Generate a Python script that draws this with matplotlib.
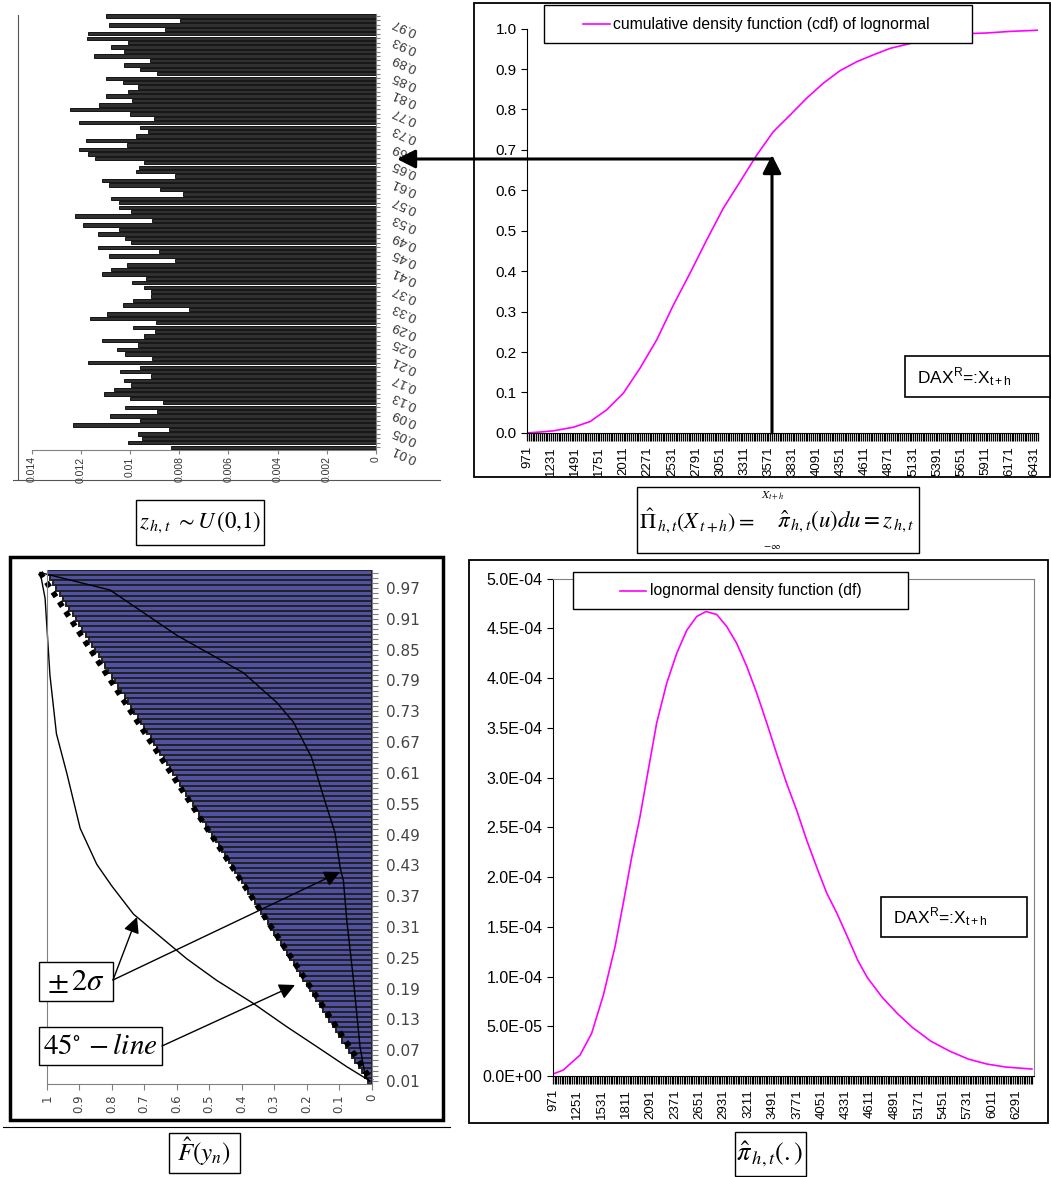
import matplotlib
matplotlib.use("Agg")
import numpy as np
import matplotlib.pyplot as plt
from matplotlib.patches import Rectangle
from matplotlib.ticker import FixedLocator, FuncFormatter

W, H = 1051, 1177
plt.rcParams['font.family'] = ['Liberation Sans', 'DejaVu Sans']
plt.rcParams['mathtext.fontset'] = 'stix'

# ---------------- data ----------------
# top left: histogram of z ~ U(0,1)
tl_categories = [round(0.01 * i, 2) for i in range(1, 99)]
tl_freq = [0.00835, 0.01007, 0.00953, 0.00966, 0.0084, 0.01233, 0.0096, 0.0108, 0.00892, 0.01019,
           0.00865, 0.0100, 0.01105, 0.01067, 0.00995, 0.01026, 0.00915, 0.0104, 0.00958, 0.0117,
           0.0091, 0.01022, 0.01054, 0.00966, 0.01115, 0.00942, 0.00899, 0.00987, 0.00893, 0.01164,
           0.01094, 0.00759, 0.0103, 0.00987, 0.00915, 0.00915, 0.00942, 0.00993, 0.00934, 0.01113,
           0.01076, 0.01014, 0.00816, 0.01084, 0.00881, 0.01129, 0.00995, 0.01022, 0.01129, 0.01046,
           0.0119, 0.0091, 0.01222, 0.00995, 0.01046, 0.01046, 0.01076, 0.00783, 0.00877, 0.01084,
           0.01115, 0.00816, 0.00974, 0.00962, 0.00942, 0.01141, 0.01172, 0.01206, 0.01014, 0.0118,
           0.00974, 0.00926, 0.00961, 0.01209, 0.00901, 0.00999, 0.01245, 0.01128, 0.00991, 0.01098,
           0.01007, 0.00969, 0.0103, 0.01098, 0.00892, 0.0096, 0.01026, 0.00918, 0.01145, 0.01026,
           0.01079, 0.01007, 0.01176, 0.0117, 0.00857, 0.01084, 0.00798, 0.01098]
tl_labeled = [0.01, 0.05, 0.09, 0.13, 0.17, 0.21, 0.25, 0.29, 0.33, 0.37, 0.41, 0.45, 0.49,
              0.53, 0.57, 0.61, 0.65, 0.69, 0.73, 0.77, 0.81, 0.85, 0.89, 0.93, 0.97]
tl_xticks = [0, 0.002, 0.004, 0.006, 0.008, 0.01, 0.012, 0.014]

# top right: cdf of lognormal
tr_x = [971, 1100, 1254, 1470, 1650, 1829, 2008, 2188, 2368, 2547, 2727, 2906, 3086, 3265,
        3445, 3624, 3804, 3984, 4163, 4343, 4522, 4701, 4881, 5132, 5391, 5651, 5911, 6171, 6471]
tr_cdf = [0.0, 0.002, 0.005, 0.014, 0.028, 0.057, 0.098, 0.160, 0.230, 0.316, 0.395, 0.477,
          0.556, 0.621, 0.687, 0.745, 0.786, 0.828, 0.865, 0.896, 0.918, 0.935, 0.951, 0.965,
          0.978, 0.987, 0.989, 0.993, 0.996]
tr_xticks = [971, 1231, 1491, 1751, 2011, 2271, 2531, 2791, 3051, 3311, 3571, 3831, 4091, 4351,
             4611, 4871, 5131, 5391, 5651, 5911, 6171, 6431]
tr_yticks = [0.0, 0.1, 0.2, 0.3, 0.4, 0.5, 0.6, 0.7, 0.8, 0.9, 1.0]

# bottom left: 45 degree line bars and +-2 sigma bands
bl_categories = [round(0.01 * i, 2) for i in range(1, 101)]
bl_labeled = [0.01, 0.07, 0.13, 0.19, 0.25, 0.31, 0.37, 0.43, 0.49, 0.55, 0.61, 0.67, 0.73,
              0.79, 0.85, 0.91, 0.97]
bl_xticks = [1, 0.9, 0.8, 0.7, 0.6, 0.5, 0.4, 0.3, 0.2, 0.1, 0]
diag_x = [1.02, 0.0]
diag_y = [1.0, 0.01]
upper_x = [1.02, 0.805, 0.60, 0.395, 0.292, 0.241, 0.185, 0.144, 0.113, 0.097, 0.087, 0.077,
           0.056, 0.036, 0.02, 0.008]
upper_y = [1.0, 0.966, 0.878, 0.805, 0.747, 0.709, 0.64, 0.555, 0.494, 0.425, 0.40, 0.325,
           0.206, 0.077, 0.02, 0.01]
lower_x = [1.02, 1.005, 0.99, 0.97, 0.938, 0.897, 0.846, 0.80, 0.733, 0.641, 0.569, 0.477,
           0.364, 0.262, 0.169, 0.077, 0.005]
lower_y = [1.0, 0.95, 0.80, 0.686, 0.609, 0.502, 0.432, 0.39, 0.335, 0.286, 0.248, 0.206,
           0.161, 0.116, 0.077, 0.038, 0.01]

# bottom right: lognormal density
br_x = [971, 1089, 1281, 1415, 1548, 1683, 1778, 1874, 1970, 2065, 2161, 2276, 2391, 2505, 2620,
        2727, 2850, 2964, 3079, 3194, 3309, 3424, 3538, 3653, 3768, 3883, 3997, 4112, 4227, 4360,
        4470, 4578, 4750, 4921, 5093, 5308, 5523, 5737, 5952, 6167, 6467]
br_pdf = [2e-6, 6e-6, 2.1e-5, 4.3e-5, 8.1e-5, 1.30e-4, 1.74e-4, 2.20e-4, 2.61e-4, 3.08e-4,
          3.55e-4, 3.95e-4, 4.25e-4, 4.48e-4, 4.62e-4, 4.67e-4, 4.64e-4, 4.52e-4, 4.35e-4, 4.12e-4,
          3.85e-4, 3.55e-4, 3.24e-4, 2.94e-4, 2.67e-4, 2.37e-4, 2.10e-4, 1.84e-4, 1.64e-4, 1.38e-4,
          1.16e-4, 9.9e-5, 7.9e-5, 6.3e-5, 4.9e-5, 3.5e-5, 2.5e-5, 1.7e-5, 1.2e-5, 9e-6, 7e-6]
br_xticks = [971, 1251, 1531, 1811, 2091, 2371, 2651, 2931, 3211, 3491, 3771, 4051, 4331, 4611,
             4891, 5171, 5451, 5731, 6011, 6291]
br_yticks = [0, 5e-5, 1e-4, 1.5e-4, 2e-4, 2.5e-4, 3e-4, 3.5e-4, 4e-4, 4.5e-4, 5e-4]

MAGENTA = '#ff00ff'

fig = plt.figure(figsize=(W / 100, H / 100), dpi=100)


def px_axes(l, t, r, b):
    return fig.add_axes([l / W, 1 - b / H, (r - l) / W, (b - t) / H])


# ---------------- top left ----------------
ax1 = px_axes(31.7, 13.8, 376, 449.5)
ax1.barh(tl_categories, tl_freq, height=0.0075, color='#303030', edgecolor='black', linewidth=0.6)
ax1.set_xlim(0.014, 0)
ax1.set_ylim(0.005, 0.985)
ax1.yaxis.tick_right()
ax1.set_yticks(tl_categories)
ax1.set_yticklabels([f"{c:.2f}" if c in tl_labeled else "" for c in tl_categories])
ax1.tick_params(axis='y', length=3, color='#808080', pad=7, labelsize=9.5,
                labelrotation=156, labelcolor='#333333')
ax1.set_xticks(tl_xticks)
ax1.set_xticklabels([f"{v:g}" for v in tl_xticks])
ax1.tick_params(axis='x', length=3, color='#808080', labelsize=7.5, labelrotation=90,
                labelcolor='#333333', pad=2)
for s in ['top', 'left']:
    ax1.spines[s].set_visible(False)
for s in ['bottom', 'right']:
    ax1.spines[s].set_color('#808080')
    ax1.spines[s].set_linewidth(0.8)

# ---------------- top right ----------------
ax2 = px_axes(527, 28.6, 1038, 432.9)
ax2.plot(tr_x, tr_cdf, color=MAGENTA, lw=1.2)
ax2.set_xlim(971, 6475)
ax2.set_ylim(0, 1.0)
ax2.set_yticks(tr_yticks)
ax2.yaxis.set_major_formatter(FuncFormatter(lambda v, p: f"{v:.1f}"))
ax2.set_xticks(tr_xticks)
ax2.set_xticklabels([str(v) for v in tr_xticks])
ax2.xaxis.set_minor_locator(FixedLocator(np.arange(971, 6475, 20)))
ax2.tick_params(axis='x', which='both', length=6, width=0.9, labelsize=9.5, labelrotation=90)
ax2.tick_params(axis='y', length=4, labelsize=11)
for s in ['top', 'right']:
    ax2.spines[s].set_visible(False)

# ---------------- bottom left ----------------
ax3 = px_axes(46.7, 570, 371.7, 1083.6)
ax3.barh(bl_categories, bl_categories, height=0.01, color='#5050a4', edgecolor='#222222',
         linewidth=1.4)
ax3.plot(diag_x, diag_y, color='black', lw=4, linestyle=(0, (1, 1.1)), clip_on=False)
ax3.plot(upper_x, upper_y, color='black', lw=1, clip_on=False)
ax3.plot(lower_x, lower_y, color='black', lw=1, clip_on=False)
ax3.set_xlim(1, 0)
ax3.set_ylim(0.005, 1.005)
ax3.yaxis.tick_right()
ax3.set_yticks(bl_categories)
ax3.set_yticklabels([f"{c:.2f}" if c in bl_labeled else "" for c in bl_categories],
                    family='DejaVu Sans')
ax3.tick_params(axis='y', length=4, color='#808080', labelsize=11, labelcolor='#444444', pad=6)
ax3.set_xticks(bl_xticks)
ax3.set_xticklabels([f"{v:g}" for v in bl_xticks], family='DejaVu Sans')
ax3.tick_params(axis='x', length=4, color='#808080', labelsize=8.5, labelrotation=90,
                labelcolor='#444444')
ax3.spines['top'].set_visible(False)
for s in ['bottom', 'right', 'left']:
    ax3.spines[s].set_color('#808080')

# ---------------- bottom right ----------------
ax4 = px_axes(553, 578.7, 1034, 1076)
ax4.plot(br_x, br_pdf, color=MAGENTA, lw=1.2)
ax4.set_xlim(971, 6491)
ax4.set_ylim(0, 5e-4)
ax4.set_yticks(br_yticks)
ax4.yaxis.set_major_formatter(FuncFormatter(lambda v, p: f"{v:.1E}"))
ax4.set_xticks(br_xticks)
ax4.set_xticklabels([str(v) for v in br_xticks])
ax4.xaxis.set_minor_locator(FixedLocator(np.arange(971, 6491, 20)))
ax4.tick_params(axis='x', which='both', length=6, width=0.9, labelsize=9.5, labelrotation=90)
ax4.tick_params(axis='y', length=4, labelsize=11.5)
for s in ['top', 'right']:
    ax4.spines[s].set_color('#808080')

# ---------------- overlay: frames, boxes, arrows ----------------
ov = fig.add_axes([0, 0, 1, 1])
ov.set_xlim(0, W)
ov.set_ylim(H, 0)
ov.axis('off')
ov.patch.set_visible(False)


def box(l, t, r, b, lw=1.0, fill=True):
    ov.add_patch(Rectangle((l, t), r - l, b - t, facecolor='white', fill=fill,
                           edgecolor='black', lw=lw))


# panel frames
ov.plot([18, 18], [15, 480], color='#555555', lw=0.8)
ov.plot([13, 440], [480, 480], color='#555555', lw=0.8)
box(474, 3, 1050, 477, lw=1.3, fill=False)
box(10, 557, 443, 1120, lw=2.5, fill=False)
ov.plot([3, 450], [1127, 1127], color='black', lw=0.8)
box(469, 560, 1048, 1123, lw=1.3, fill=False)

# legends
box(544, 5, 972, 43)
ov.plot([583, 610], [24, 24], color=MAGENTA, lw=1.2)
ov.text(613, 24, 'cumulative density function (cdf) of lognormal', fontsize=11.3, va='center')
box(573, 572, 908, 609)
ov.plot([620, 646], [591, 591], color=MAGENTA, lw=1.2)
ov.text(650, 591, 'lognormal density function (df)', fontsize=11.3, va='center')

# DAX labels
dax = r'DAX$^{\mathregular{R}}$=:X$_{\mathregular{t+h}}$'
box(905, 356, 1050, 397, lw=1.2)
ov.text(917, 378, dax, fontsize=12.5, va='center')
box(881, 897, 1027, 937, lw=1.2)
ov.text(893, 918, dax, fontsize=12.5, va='center')

# formula boxes
box(136, 500, 264, 545)
ov.text(200, 522, r'$z_{\,h,t}\ \sim U\,(0{,}1)$', fontsize=16.5, ha='center', va='center')
box(637, 487, 919, 553)
ov.text(755, 521, r'$\hat{\Pi}_{\,h,t}(X_{\,t+h}) =$', fontsize=16, ha='right', va='center')
ov.text(777, 521, r'$\hat{\pi}_{\,h,t}(u)du = z_{\,h,t}$', fontsize=16.5, ha='left',
        va='center')
ov.text(773, 496, r'$X_{t+h}$', fontsize=8.5, ha='center', va='center')
ov.text(772, 546, r'$-\infty$', fontsize=7.5, ha='center', va='center')
box(169, 1133, 240, 1173)
ov.text(204, 1152, r'$\hat{F}(y_n)$', fontsize=18, ha='center', va='center')
box(735, 1132, 806, 1176)
ov.text(770, 1154, r'$\hat{\pi}_{\,h,t}(.)$', fontsize=19, ha='center', va='center')

# bottom left annotations
box(39, 962, 113, 1001)
ov.text(76, 982, r'$\pm\,2\sigma$', fontsize=22, ha='center', va='center')
box(39, 1027, 162, 1065)
ov.text(100, 1046, r'$45^{\circ}\,-line$', fontsize=21, ha='center', va='center')

small = dict(arrowstyle='-|>,head_length=0.8,head_width=0.4', color='black', lw=1.0,
             mutation_scale=12, shrinkA=0, shrinkB=0)
ov.annotate('', xy=(137, 917), xytext=(113, 980), arrowprops=small)
ov.annotate('', xy=(340, 872), xytext=(113, 980), arrowprops=small)
ov.annotate('', xy=(295, 985), xytext=(162, 1046), arrowprops=small)

# big arrows linking the top panels
big = dict(arrowstyle='-|>,head_length=0.55,head_width=0.28', color='black', lw=2.2,
           mutation_scale=20, shrinkA=0, shrinkB=0)
ov.annotate('', xy=(772, 155), xytext=(772, 433), arrowprops=big)
ov.annotate('', xy=(397, 159), xytext=(772, 159), arrowprops=big)

fig.savefig('out.png', dpi=100)
